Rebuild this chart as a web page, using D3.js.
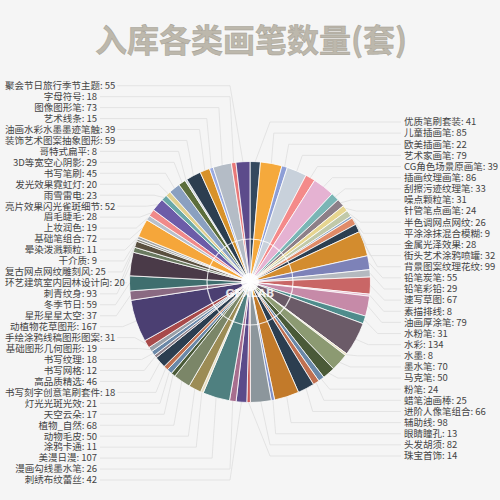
<!DOCTYPE html>
<html><head><meta charset="utf-8">
<script src="https://cdn.jsdelivr.net/npm/d3@7"></script>
<style>html,body{margin:0;padding:0;background:#f5f5f5;}svg{display:block;}</style>
</head><body>
<svg id="chart" width="500" height="500"></svg>
<script>
const titleText = "入库各类画笔数量(套)";
const categories = [
 "优质笔刷套装","儿童插画笔","欧美插画笔","艺术家画笔","CG角色场景原画笔","插画纹理画笔","刮擦污迹纹理笔","噪点颗粒笔","针管笔点画笔","半色调网点网纹",
 "平涂涂抹混合模糊","金属光泽效果","街头艺术涂鸦喷罐","背景图案纹理花纹","铅笔炭笔","铅笔彩铅","速写草图","素描排线","油画厚涂笔","水粉笔",
 "水彩","水墨","墨水笔","马克笔","粉笔","蜡笔油画棒","进阶人像笔组合","辅助线","眼睛瞳孔","头发胡须","珠宝首饰",
 "刺绣布纹蕾丝","漫画勾线墨水笔","美漫日漫","涂鸦卡通","动物毛皮","植物_自然","天空云朵","灯光光斑光效","书写刻字创意笔刷套件","高品质精选",
 "书写网格","书写纹理","基础图形几何图形","手绘涂鸦线稿图形图案","动植物花草图形","星形星星太空","冬季节日","刺青纹身","环艺建筑室内园林设计向","复古网点网纹雕刻风",
 "干介质","晕染泼溅颗粒","基础笔组合","上妆润色","眉毛睫毛","亮片效果闪光雀斑细节","雨雪雷电","发光效果霓虹灯","书写笔刷","3D等宽空心阴影",
 "哥特式扁平","装饰艺术图案抽象图形","油画水彩水墨墨迹笔触","艺术线条","图像图形笔","字母符号","聚会节日旅行季节主题"
];
const values = [
 41,85,22,79,39,86,33,31,24,26,
 9,28,32,99,55,29,67,8,79,31,
 134,8,70,50,24,25,66,98,13,82,14,
 42,26,107,11,50,68,17,21,18,46,
 12,18,19,31,167,37,59,93,20,25,
 9,11,72,19,28,52,23,20,45,29,
 8,59,39,15,73,18,55
];
const rightCount = 31; // first 31 categories are labelled on the right
const colors = [
 "#34495e","#f5a93c","#8d9ed6","#c8d1db","#f48a8a","#e5b2d2","#7ab5b5","#8c7f88","#e6d590","#c1c9a9",
 "#8aa6c4","#e08b68","#2c3e50","#d38c2e","#7d82b8","#b4b9bf","#c96666","#e0b0c8","#c68aa8","#4f8c8c",
 "#6b5b68","#e8e0c0","#8c9a72","#4a5a38","#6a88a8","#c07050","#2c3e50","#c27a2a","#8090c8","#8c969c","#c85a5a",
 "#5b4b8a","#a86e8e","#4f8080","#e6dcc0","#9c8c55","#7b8668","#4a5a38","#6a88a8","#c07050","#2c3e50",
 "#8c7f88","#6a88a8","#9aa0a8","#a84a4a","#4b3f72","#8a6a82","#3f6e6e","#4a3a48","#6a7a60","#5a5040",
 "#8a8a80","#a0a4a8","#f5a63a","#b8c0cc","#f08a8a","#6c5ca8","#6aa8a8","#e0d090","#8aa0c0","#5c6e3c",
 "#c8d0d8","#2c3e50","#d8922a","#9aaae0","#b4bcc6","#e87878","#5c4b8b"
];

const W = 500, H = 500;
const cx = 250, cy = 282, R = 120.5;
const svg = d3.select("#chart");
svg.append("rect").attr("width", W).attr("height", H).attr("fill", "#f5f5f5");

svg.append("text")
  .attr("x", 251).attr("y", 52)
  .attr("text-anchor", "middle")
  .attr("font-family", "'Noto Sans CJK SC', sans-serif")
  .attr("font-size", 32).attr("font-weight", "bold")
  .attr("fill", "#bdb8ac").attr("stroke", "#a49f94").attr("stroke-width", 0.5)
  .text(titleText);

const data = categories.map((c, i) => ({ name: c, value: values[i], color: colors[i], idx: i }));
const pie = d3.pie().value(d => d.value).sort(null);
const arcs = pie(data);
const arcGen = d3.arc().innerRadius(0).outerRadius(R);

const g = svg.append("g").attr("transform", `translate(${cx},${cy})`);
g.selectAll("path.slice").data(arcs).join("path")
  .attr("class", "slice")
  .attr("d", arcGen)
  .attr("fill", d => d.data.color)
  .attr("stroke", "#ffffff").attr("stroke-width", 0.8).attr("stroke-linejoin", "round");

// label layout
const mid = d => (d.startAngle + d.endAngle) / 2;
const right = arcs.filter(d => d.data.idx < rightCount);
const left = arcs.filter(d => d.data.idx >= rightCount).reverse(); // top to bottom
const rTop = 122, rBot = 456, lTop = 85.7, lBot = 480;
right.forEach((d, i) => { d.ly = rTop + i * (rBot - rTop) / (right.length - 1); d.side = 1; });
left.forEach((d, i) => { d.ly = lTop + i * (lBot - lTop) / (left.length - 1); d.side = -1; });

const rightX = 404, leftX = 97, minLeft = 5;
const lineG = svg.append("g");
const labelG = svg.append("g")
  .attr("font-family", "'Noto Sans CJK SC', sans-serif")
  .attr("font-size", 9.5).attr("fill", "#444");

arcs.forEach(d => {
  const t = labelG.append("text")
    .attr("x", d.side > 0 ? rightX : leftX)
    .attr("y", d.ly)
    .attr("dy", "0.35em")
    .attr("text-anchor", d.side > 0 ? "start" : "end")
    .text(`${d.data.name}: ${d.data.value}`);
  let lineEnd = d.side > 0 ? rightX - 3 : leftX + 3;
  if (d.side < 0) {
    const w = t.node().getComputedTextLength();
    if (leftX - w < minLeft) {
      t.attr("x", minLeft).attr("text-anchor", "start");
      lineEnd = minLeft + w + 2;
    }
  }
  const a = mid(d);
  const x0 = cx + R * Math.sin(a), y0 = cy - R * Math.cos(a);
  let x1 = cx + (R + 14) * Math.sin(a);
  if (d.side > 0) x1 = Math.max(x1, cx + 20); else x1 = Math.min(x1, cx - 20);
  lineG.append("polyline")
    .attr("points", `${x0},${y0} ${x1},${d.ly} ${lineEnd},${d.ly}`)
    .attr("fill", "none").attr("stroke", "#dedede").attr("stroke-width", 0.8);
});

// watermark
const wm = svg.append("g").attr("transform", `translate(${cx},${cy})`);
wm.append("circle").attr("r", 43).attr("fill", "none").attr("stroke", "#ffffff").attr("stroke-opacity", 0.8).attr("stroke-width", 1.2);
wm.append("circle").attr("r", 9).attr("fill", "#ffffff").attr("fill-opacity", 0.85);
wm.append("text").attr("y", 15).attr("text-anchor", "middle")
  .attr("font-family", "'DejaVu Sans', sans-serif").attr("font-weight", "bold").attr("font-size", 11)
  .attr("fill", "#ffffff").attr("fill-opacity", 0.85).text("GFXLAB");
</script>
</body></html>
